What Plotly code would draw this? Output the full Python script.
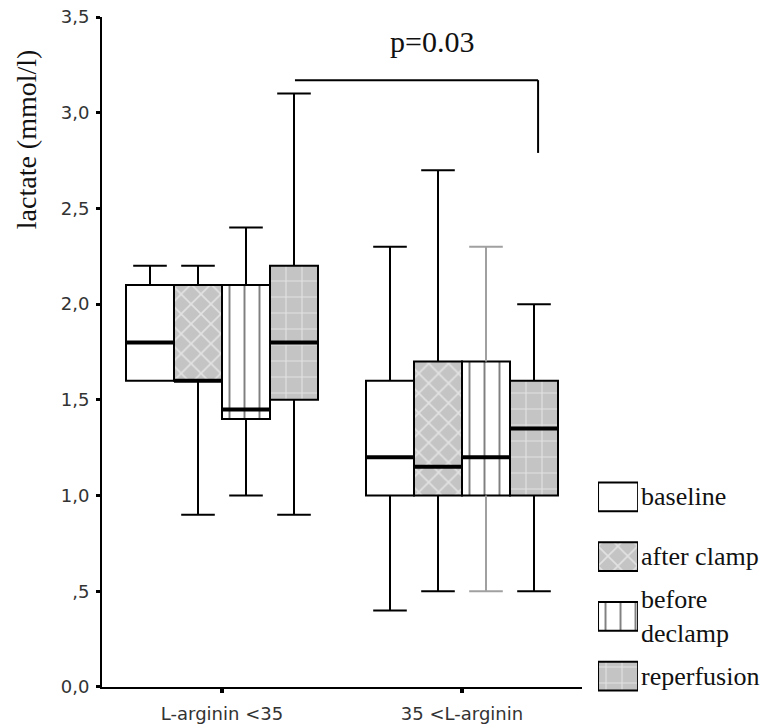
import plotly.graph_objects as go

# ---------------- data ----------------
groups = ["L-arginin <35", "35 <L-arginin"]
series = ["baseline", "after clamp", "before declamp", "reperfusion"]
series_text = ["baseline", "after clamp", "before<br>declamp", "reperfusion"]

q1 = {"baseline": [1.6, 1.0], "after clamp": [1.6, 1.0],
      "before declamp": [1.4, 1.0], "reperfusion": [1.5, 1.0]}
q3 = {"baseline": [2.1, 1.6], "after clamp": [2.1, 1.7],
      "before declamp": [2.1, 1.7], "reperfusion": [2.2, 1.6]}
median = {"baseline": [1.8, 1.2], "after clamp": [1.6, 1.15],
          "before declamp": [1.45, 1.2], "reperfusion": [1.8, 1.35]}
upper = {"baseline": [2.2, 2.3], "after clamp": [2.2, 2.7],
         "before declamp": [2.4, 2.3], "reperfusion": [3.1, 2.0]}
lower = {"baseline": [1.6, 0.4], "after clamp": [0.9, 0.5],
         "before declamp": [1.0, 0.5], "reperfusion": [0.9, 0.5]}

ytick_vals = [0, 0.5, 1.0, 1.5, 2.0, 2.5, 3.0, 3.5]
ytick_text = ["0,0", ",5", "1,0", "1,5", "2,0", "2,5", "3,0", "3,5"]

p_text = "p=0.03"
y_title = "lactate (mmol/l)"

# ---------------- styles ----------------
GREY = "#c4c4c4"
patterns = {
    "baseline": dict(shape="", bgcolor="white"),
    "after clamp": dict(shape="x", bgcolor=GREY, fgcolor="white", size=14, solidity=0.22),
    "before declamp": dict(shape="|", bgcolor="white", fgcolor="black", size=15, solidity=0.13),
    "reperfusion": dict(shape="+", bgcolor=GREY, fgcolor="white", size=16, solidity=0.14),
}
whisker_colors = {"baseline": ["black", "black"], "after clamp": ["black", "black"],
                  "before declamp": ["black", "#a0a0a0"], "reperfusion": ["black", "black"]}
BOX_W = 0.2
CAP_HALF = 0.07
SERIF = "Liberation Serif"
SANS = "DejaVu Sans"
TXT = "#111"

fig = go.Figure()

for si, s in enumerate(series):
    off = (si - 1.5) * BOX_W
    xs = [gi + off for gi in range(len(groups))]
    heights = [b - a for a, b in zip(q1[s], q3[s])]
    fig.add_trace(go.Bar(
        x=xs, y=heights, base=q1[s], width=BOX_W,
        marker=dict(color="white", pattern=patterns[s],
                    line=dict(color="black", width=2)),
        showlegend=False, hoverinfo="skip"))

for si, s in enumerate(series):
    off = (si - 1.5) * BOX_W
    for gi in range(len(groups)):
        x = gi + off
        wx, wy = [], []
        if upper[s][gi] > q3[s][gi]:
            wx += [x, x, None, x - CAP_HALF, x + CAP_HALF, None]
            wy += [q3[s][gi], upper[s][gi], None, upper[s][gi], upper[s][gi], None]
        if lower[s][gi] < q1[s][gi]:
            wx += [x, x, None, x - CAP_HALF, x + CAP_HALF, None]
            wy += [q1[s][gi], lower[s][gi], None, lower[s][gi], lower[s][gi], None]
        if wx:
            fig.add_trace(go.Scatter(x=wx, y=wy, mode="lines",
                                     line=dict(color=whisker_colors[s][gi], width=2),
                                     showlegend=False, hoverinfo="skip"))
        fig.add_trace(go.Scatter(x=[x - BOX_W / 2, x + BOX_W / 2],
                                 y=[median[s][gi], median[s][gi]], mode="lines",
                                 line=dict(color="black", width=4),
                                 showlegend=False, hoverinfo="skip"))

# ---------------- legend (custom) ----------------
for si, s in enumerate(series):
    fig.add_trace(go.Bar(
        x=[1], y=[s], orientation="h", width=0.48, base=0,
        marker=dict(color="white", pattern=patterns[s],
                    line=dict(color="black", width=2)),
        xaxis="x2", yaxis="y2", showlegend=False, hoverinfo="skip"))
    fig.add_annotation(x=0.8174, xref="paper", xanchor="left",
                       y=s, yref="y2", yanchor="middle",
                       text=series_text[si], showarrow=False, align="left",
                       font=dict(family=SERIF, size=26, color=TXT))

# ---------------- significance bracket ----------------
br_x0, br_x1, br_y, br_y_end = 0.304, 1.317, 3.17, 2.79
fig.add_shape(type="line", x0=br_x0, x1=br_x1, y0=br_y, y1=br_y,
              xref="x", yref="y", line=dict(color="black", width=2))
fig.add_shape(type="line", x0=br_x1, x1=br_x1, y0=br_y, y1=br_y_end,
              xref="x", yref="y", line=dict(color="black", width=2))
fig.add_annotation(x=0.875, y=3.37, xref="x", yref="y", text=p_text,
                   showarrow=False, font=dict(family=SERIF, size=30, color=TXT))

# y title
fig.add_annotation(x=-0.1138, y=0.823, xref="paper", yref="paper",
                   xanchor="center", yanchor="middle",
                   text=y_title, textangle=-90, showarrow=False,
                   font=dict(family=SERIF, size=28, color=TXT))

fig.update_layout(
    width=769, height=726,
    margin=dict(l=102, r=10, t=17, b=20, autoexpand=False),
    paper_bgcolor="white", plot_bgcolor="white",
    barmode="overlay", showlegend=False, hovermode=False,
    xaxis=dict(domain=[0, 0.7306], range=[-0.5, 1.5],
               tickvals=list(range(len(groups))), ticktext=groups,
               showline=True, linecolor="black", linewidth=2,
               ticks="outside", ticklen=4, tickwidth=4, tickcolor="black",
               ticklabelstandoff=5, ticklabeloverflow="allow", automargin=False,
               showgrid=False, zeroline=False,
               tickfont=dict(family=SANS, size=18, color="#333")),
    yaxis=dict(domain=[0.0276, 1], range=[0, 3.5],
               tickvals=ytick_vals, ticktext=ytick_text,
               showline=True, linecolor="black", linewidth=2,
               ticks="outside", ticklen=4, tickwidth=3, tickcolor="black",
               ticklabelstandoff=3, ticklabeloverflow="allow", automargin=False,
               showgrid=False, zeroline=False,
               tickfont=dict(family=SANS, size=18, color="#333")),
    xaxis2=dict(domain=[0.755, 0.816], range=[0, 1], anchor="y2",
                visible=False, fixedrange=True),
    yaxis2=dict(domain=[0, 0.3469], range=[3.5, -0.5], anchor="x2",
                type="category", categoryorder="array", categoryarray=series,
                visible=False, fixedrange=True),
)

fig.write_html("out.html", config={"displayModeBar": False},
               post_script="document.body.style.margin='0';")
